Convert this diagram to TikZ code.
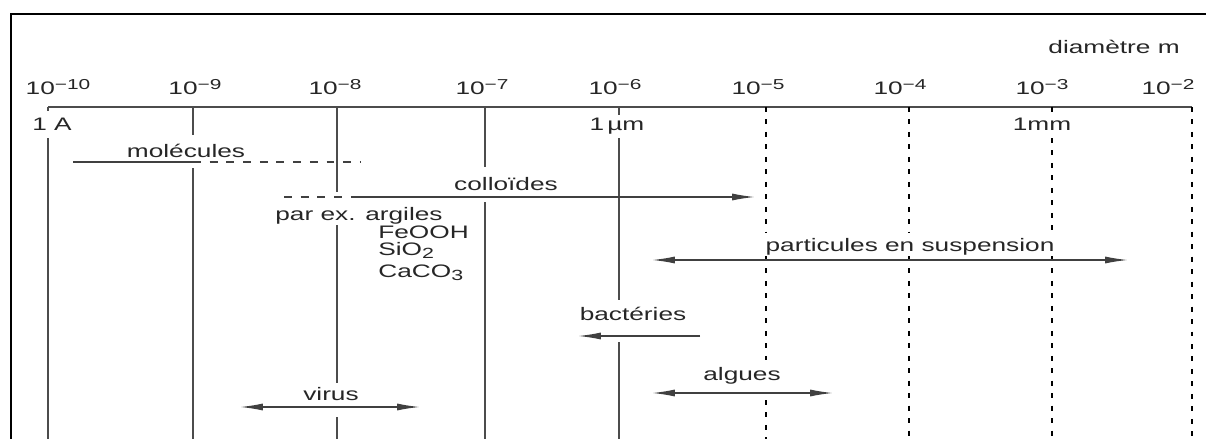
\documentclass[tikz,border=0pt]{standalone}
\usepackage{fontspec}
\setmainfont{Liberation Sans}[FakeStretch=1.45]
\usetikzlibrary{arrows.meta}
\newcommand{\expo}[1]{\raisebox{0.5ex}{\fontsize{8.2}{9}\selectfont #1}}
\newcommand{\indx}[1]{\raisebox{-0.35ex}{\fontsize{8.4}{9}\selectfont #1}}

\begin{document}
\begin{tikzpicture}[x=0.02cm, y=-0.02cm,
    lbl/.style={inner sep=0pt, text=black!85, font=\fontsize{10.3}{11}\selectfont},
    gridsolid/.style={line width=1.1pt, black!70},
    griddash/.style={line width=1.2pt, black, dash pattern=on 2.8pt off 4.3pt},
    spanline/.style={line width=0.8pt, black!75},
    spandash/.style={line width=0.8pt, black!75, dash pattern=on 4.5pt off 5pt},
    tipr/.style={-{Latex[length=13pt,width=4pt]}},
    tipb/.style={{Latex[length=13pt,width=4pt]}-{Latex[length=13pt,width=4pt]}}]

    \useasboundingbox (0,0) rectangle (1206,439);
    \draw[line width=1.2pt] (11,445) -- (11,14) -- (1212,14);

    % scale
    \coordinate (ax0) at (48,107); \coordinate (ax1) at (1192,107);
    \draw[gridsolid] (ax0) -- (ax1);
    \node[lbl, anchor=base east] (diam) at (1180,54) {diamètre m};
    \foreach \x/\e in {58/10, 195/9, 335/8, 482/7, 615/6, 758/5, 900/4, 1042/3, 1168/2}
        \node[lbl, anchor=base] (p\e) at (\x,94) {10\expo{−\e}};
    \node[lbl, anchor=base] (ang) at (52,131) {1 A};
    \node[lbl, anchor=base] (mum) at (617,131) {1\,µm};
    \node[lbl, anchor=base] (mm) at (1042,131) {1mm};

    % vertical lines, cut where the labels sit
    \foreach \x/\a/\b in {48/107/111, 48/138/439, 193/107/135, 193/168/439,
        337/107/192, 337/225/383, 337/417/439, 485/107/167, 485/202/439,
        619/107/115, 619/138/300, 619/342/439}
        \draw[gridsolid] (\x,\a) -- (\x,\b);
    \foreach \x/\a/\b in {766/107/232, 766/256/360, 766/400/439, 909/107/232, 909/256/439,
        1052/107/115, 1052/138/232, 1052/256/439, 1192/107/439}
        \draw[griddash] (\x,\a) -- (\x,\b);

    % ranges
    \coordinate (mol0) at (73,162); \coordinate (mol1) at (193,162); \coordinate (mol2) at (360,162);
    \draw[spanline] (mol0) -- (mol1);
    \draw[spandash] (mol1) -- (mol2);
    \node[lbl, anchor=base] (mol) at (186,157) {molécules};

    \coordinate (col0) at (284,197); \coordinate (col1) at (358,197); \coordinate (col2) at (755,197);
    \draw[spandash] (col0) -- (col1);
    \draw[spanline, tipr] (col1) -- (col2);
    \node[lbl, anchor=base] (col) at (506,190) {colloïdes};
    \node[lbl, anchor=base] (arg) at (359,220) {par ex. argiles};
    \node[lbl, anchor=base west] (feo) at (378,238) {FeOOH};
    \node[lbl, anchor=base west] (sio) at (378,255) {SiO\indx{2}};
    \node[lbl, anchor=base west] (cac) at (378,277) {CaCO\indx{3}};

    \coordinate (par0) at (652,260); \coordinate (par1) at (1128,260);
    \draw[spanline, tipb] (par0) -- (par1);
    \node[lbl, anchor=base] (par) at (910,251) {particules en suspension};

    \coordinate (bac0) at (700,336); \coordinate (bac1) at (578,336);
    \draw[spanline, tipr] (bac0) -- (bac1);
    \node[lbl, anchor=base] (bac) at (633,320) {bactéries};

    \coordinate (alg0) at (652,393); \coordinate (alg1) at (833,393);
    \draw[spanline, tipb] (alg0) -- (alg1);
    \node[lbl, anchor=base] (alg) at (742,380) {algues};

    \coordinate (vir0) at (240,407); \coordinate (vir1) at (420,407);
    \draw[spanline, tipb] (vir0) -- (vir1);
    \node[lbl, anchor=base] (vir) at (331,400) {virus};

\end{tikzpicture}
\end{document}
